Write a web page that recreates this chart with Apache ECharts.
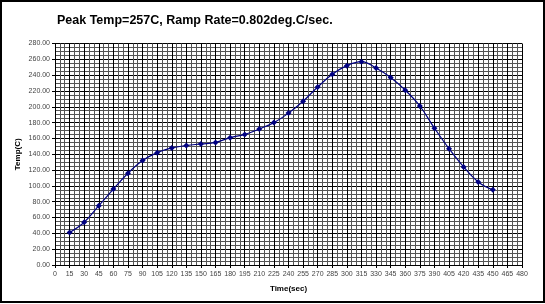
<!DOCTYPE html>
<html>
<head>
<meta charset="utf-8">
<script src="https://cdn.jsdelivr.net/npm/echarts@6/dist/echarts.min.js"></script>
<style>
    html, body { margin: 0; padding: 0; background: #fff; }
    #chart { width: 545px; height: 304px; }
</style>
</head>
<body>
<div id="chart"></div>
<script>
// time in seconds
const times = [15, 30, 45, 60, 75, 90, 105, 120, 135, 150, 165, 180, 195, 210, 225,
    240, 255, 270, 285, 300, 315, 330, 345, 360, 375, 390, 405, 420, 435, 450];
// temperature readings (C)
const temps = [41, 54, 75, 96, 116, 132, 142, 148, 151, 153, 155, 161, 165, 172, 180,
    192, 207, 225, 241, 252, 257, 249, 237, 221, 201, 173, 147, 124, 105, 95];

const titleText = "Peak Temp=257C, Ramp Rate=0.802deg.C/sec.";
const xName = "Time(sec)";
const yName = "Temp(C)";

const chart = echarts.init(document.getElementById("chart"));

const option = {
    animation: false,
    backgroundColor: "#fff",
    textStyle: { fontFamily: "Liberation Sans, Arial, sans-serif" },
    title: {
        text: titleText,
        left: 52,
        top: 9,
        textStyle: { fontSize: 12.5, fontWeight: "bold", color: "#000" },
    },
    graphic: [
        {
            type: "rect",
            shape: { x: 1, y: 1, width: 543, height: 301 },
            style: { fill: "none", stroke: "#000", lineWidth: 2 },
            silent: true,
        },
    ],
    grid: {
        left: 55,
        right: 23,
        top: 43.5,
        bottom: 39,
    },
    xAxis: {
        type: "value",
        min: 0,
        max: 480,
        interval: 15,
        name: xName,
        nameLocation: "middle",
        nameGap: 20,
        nameMoveOverlap: false,
        nameTextStyle: { fontSize: 8, fontWeight: "bold", color: "#000" },
        axisLine: { show: true, lineStyle: { color: "#000", width: 1 } },
        axisTick: { show: true, length: 3, lineStyle: { color: "#000" } },
        axisLabel: { fontSize: 7, color: "#444", margin: 6 },
        splitLine: { show: true, lineStyle: { color: "#000", width: 1 } },
        minorTick: { show: false, splitNumber: 3 },
        minorSplitLine: { show: true, lineStyle: { color: "#555", width: 1 } },
    },
    yAxis: {
        type: "value",
        min: 0,
        max: 280,
        interval: 20,
        name: yName,
        nameLocation: "middle",
        nameGap: 33,
        nameMoveOverlap: false,
        nameTextStyle: { fontSize: 8, fontWeight: "bold", color: "#000" },
        axisLine: { show: true, lineStyle: { color: "#000", width: 1 } },
        axisTick: { show: true, length: 3, lineStyle: { color: "#000" } },
        axisLabel: {
            fontSize: 7,
            color: "#444",
            margin: 5,
            formatter: (v) => v.toFixed(2),
        },
        splitLine: { show: true, lineStyle: { color: "#000", width: 1 } },
        minorTick: { show: false, splitNumber: 4 },
        minorSplitLine: { show: true, lineStyle: { color: "#555", width: 1 } },
    },
    series: [
        {
            name: "Temp",
            type: "line",
            smooth: 0.4,
            data: times.map((t, i) => [t, temps[i]]),
            symbol: "diamond",
            symbolSize: 6,
            lineStyle: { color: "#000080", width: 1.2 },
            itemStyle: { color: "#000080" },
        },
    ],
};

chart.setOption(option);
</script>
</body>
</html>
